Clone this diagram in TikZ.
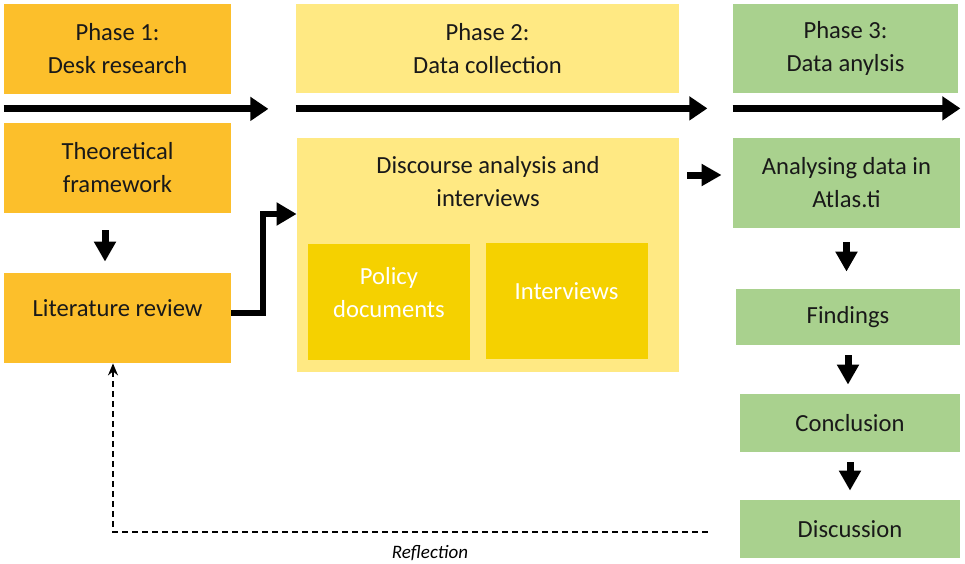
\documentclass[tikz,border=0pt]{standalone}
\usepackage{fontspec}
\setmainfont{Carlito}
\usetikzlibrary{arrows.meta}

\definecolor{deskorange}{HTML}{FCBF2B}
\definecolor{collectyellow}{HTML}{FFE983}
\definecolor{sourceyellow}{HTML}{F5D100}
\definecolor{analysegreen}{HTML}{A9D18E}

\begin{document}
\begin{tikzpicture}[x=0.5pt, y=-0.5pt]
\tikzset{
  box/.style={
    draw=none,
    align=center,
    inner sep=0pt,
    text=black!90,
    font=\fontsize{12.3}{16.5}\selectfont
  },
  desk/.style={
    box,
    fill=deskorange,
    minimum width=113.5pt,
    minimum height=45pt
  },
  collect/.style={
    box,
    fill=collectyellow
  },
  source/.style={
    box,
    fill=sourceyellow,
    text=white,
    text depth=9.5pt,
    minimum width=81pt,
    minimum height=58pt
  },
  analyse/.style={
    box,
    fill=analysegreen
  },
  bigarrow/.style={
    draw,
    line width=3.5pt,
    -{Triangle[length=9pt, width=11.5pt]}
  },
  smallarrow/.style={
    draw,
    line width=3.5pt,
    -{Triangle[length=10pt, width=10.5pt]}
  },
  elbow/.style={
    draw,
    line width=3pt,
    -{Triangle[length=10pt, width=11pt]}
  },
  reflect/.style={
    draw,
    line width=0.8pt,
    dash pattern=on 3pt off 2pt,
    -{Stealth[length=6pt, width=5pt]}
  }
}

\useasboundingbox (0,0) rectangle (965,563);

% Phase 1
\node (phase1) [desk] at (117.5,48.5) {Phase 1:\\Desk research};
\node (theory) [desk] at (117.5,168) {Theoretical\\framework};
\node (litreview) [desk, text depth=10pt] at (117.5,318) {Literature review};

\draw[bigarrow] ([yshift=-7.5pt]phase1.south west) to ([yshift=-7.5pt, xshift=18.5pt]phase1.south east);
\draw[smallarrow, shorten <=8.5pt, shorten >=5.5pt] ([xshift=-6.25pt]theory.south) to ([xshift=-6.25pt]litreview.north);

% Phase 2
\node (phase2) [collect, minimum width=191.5pt, minimum height=44.5pt] at (487.5,48.5) {Phase 2:\\Data collection};
\node (disc) [collect, minimum width=191pt, minimum height=117pt] at (488,255) {};
\node (disctext) [box] at (488,181.5) {Discourse analysis and\\interviews};
\node (policy) [source] at (389,302) {Policy\\documents};
\node (interviews) [source] at (566.5,301) {Interviews};

\draw[bigarrow] ([yshift=-7.5pt]phase2.south west) to ([yshift=-7.5pt, xshift=14pt]phase2.south east);
\draw[elbow] ([yshift=2.5pt]litreview.east) -- ++(32,0) |- ([yshift=20.5pt]disc.west);

% Phase 3
\node (phase3) [analyse, minimum width=112.5pt, minimum height=44.5pt] at (845.5,48.5) {Phase 3:\\Data anylsis};
\node (atlas) [analyse, minimum width=113.5pt, minimum height=45pt] at (846.5,183) {Analysing data in\\Atlas.ti};
\node (findings) [analyse, minimum width=112pt, minimum height=28pt] at (848,317) {Findings};
\node (conclusion) [analyse, minimum width=110pt, minimum height=29pt] at (850,423) {Conclusion};
\node (discussion) [analyse, minimum width=110pt, minimum height=29pt] at (850,529) {Discussion};

\draw[bigarrow] ([yshift=-7.5pt]phase3.south west) to ([yshift=-7.5pt, xshift=1pt]phase3.south east);
\draw[smallarrow, shorten <=4pt, shorten >=5.5pt] ([yshift=4pt]disc.east |- atlas.west) to ([yshift=4pt]atlas.west);
\draw[smallarrow, shorten <=7pt, shorten >=8.5pt] (atlas.south) to (atlas.south |- findings.north);
\draw[smallarrow, shorten <=5pt, shorten >=4.5pt] (findings.south) to (findings.south |- conclusion.north);
\draw[smallarrow, shorten <=5pt, shorten >=4.5pt] (conclusion.south) to (conclusion.north |- discussion.north);

% Reflection
\draw[reflect] ([xshift=-16pt, yshift=-1.5pt]discussion.west) -| ([xshift=-2.25pt]litreview.south)
  node (reflection) [pos=0.2335, below=3pt, font=\fontsize{9.5}{11}\selectfont\itshape] {Reflection};

\end{tikzpicture}
\end{document}
